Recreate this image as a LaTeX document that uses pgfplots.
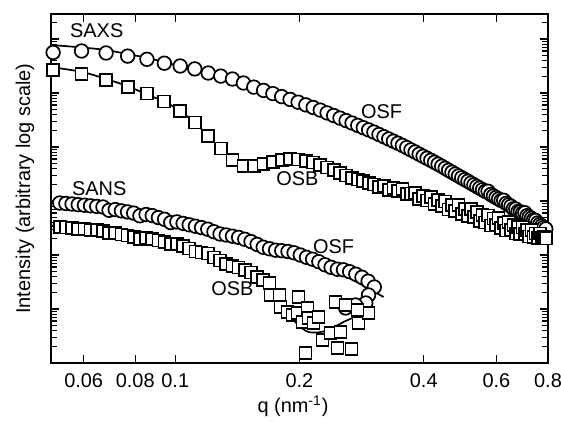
\documentclass[border=0pt]{standalone}
\usepackage{pgfplots}
\pgfplotsset{compat=1.18}
\usepackage{fontspec}
\setmainfont{Liberation Sans}

% y values are log10(intensity), arbitrary units
\pgfplotstableread{
q      osf    osb
0.0506 5.750  5.426
0.0593 5.778  5.354
0.0680 5.741  5.241
0.0767 5.683  5.107
0.0854 5.624  4.989
0.0941 5.552  4.841
0.1028 5.500  4.667
0.1115 5.446  4.452
0.1202 5.370  4.206
0.1289 5.313  3.972
0.1376 5.259  3.756
0.1463 5.185  3.648
0.1550 5.109  3.646
0.1637 5.048  3.689
0.1724 4.989  3.724
0.1811 4.933  3.757
0.1898 4.881  3.778
0.1985 4.830  3.769
0.2072 4.780  3.739
0.2159 4.731  3.711
0.2246 4.683  3.670
0.2333 4.631  3.619
0.2420 4.583  3.574
0.2507 4.535  3.522
0.2594 4.489  3.472
0.2681 4.444  3.431
0.2768 4.400  3.396
0.2855 4.357  3.367
0.2942 4.317  3.337
0.3029 4.276  3.306
0.3116 4.231  3.265
0.3203 4.189  3.281
0.3290 4.148  3.207
0.3377 4.107  3.244
0.3464 4.069  3.189
0.3551 4.030  3.228
0.3638 3.989  3.130
0.3725 3.946  3.141
0.3812 3.907  3.154
0.3899 3.867  3.037
0.3986 3.828  3.087
0.4073 3.791  3.009
0.4160 3.754  3.078
0.4247 3.717  2.944
0.4334 3.681  3.017
0.4421 3.643  2.902
0.4508 3.606  2.991
0.4595 3.569  2.841
0.4682 3.533  2.931
0.4769 3.498  2.819
0.4856 3.463  2.928
0.4943 3.430  2.761
0.5030 3.396  2.852
0.5117 3.365  2.722
0.5204 3.331  2.852
0.5291 3.300  2.702
0.5378 3.269  2.793
0.5465 3.239  2.624
0.5552 3.209  2.735
0.5639 3.178  2.604
0.5726 3.180  2.733
0.5813 3.120  2.548
0.5900 3.093  2.678
0.5987 3.065  2.550
0.6074 3.037  2.680
0.6161 3.009  2.500
0.6248 3.013  2.596
0.6335 2.956  2.454
0.6422 2.930  2.606
0.6509 2.902  2.463
0.6596 2.856  2.559
0.6683 2.850  2.398
0.6770 2.806  2.515
0.6857 2.800  2.391
0.6944 2.776  2.509
0.7031 2.782  2.385
0.7118 2.728  2.467
0.7205 2.704  2.343
0.7292 2.678  2.461
0.7379 2.650  2.339
0.7466 2.640  2.400
0.7553 2.593  2.315
0.7640 2.565  2.396
0.7727 2.537  2.311
0.7814 2.509  2.337
0.7901 2.483  2.307
}\saxs

\pgfplotstableread{
q       L
0.0525  2.963
0.05434 2.954
0.05624 2.944
0.05821 2.933
0.06025 2.922
0.06235 2.911
0.06454 2.900
0.06680 2.889
0.06913 2.828
0.07155 2.841
0.07406 2.817
0.07665 2.798
0.07933 2.776
0.08211 2.726
0.08498 2.750
0.08796 2.730
0.09104 2.693
0.09422 2.661
0.09752 2.600
0.1009  2.613
0.1045  2.585
0.1081  2.559
0.1119  2.533
0.1158  2.507
0.1199  2.478
0.1241  2.431
0.1284  2.389
0.1329  2.370
0.1376  2.348
0.1424  2.326
0.1474  2.291
0.1526  2.248
0.1579  2.196
0.1634  2.144
0.1692  2.115
0.1751  2.089
0.1812  2.080
0.1876  2.065
0.1941  2.041
0.2009  2.000
0.2080  1.957
0.2152  1.922
0.2228  1.876
0.2306  1.819
0.2386  1.772
0.2470  1.737
0.2556  1.726
0.2646  1.691
0.2738  1.644
0.2834  1.587
0.2933  1.515
0.3036  1.407
0.2940  1.259
0.2895  1.111
0.2735  1.074
0.2587  1.019
}\sansosf

\pgfplotstableread{
q       L
0.0525  2.517
0.05434 2.507
0.05624 2.496
0.05821 2.487
0.06025 2.478
0.06235 2.467
0.06454 2.457
0.06680 2.448
0.06913 2.407
0.07155 2.402
0.07406 2.381
0.07665 2.361
0.07933 2.339
0.08211 2.296
0.08498 2.315
0.08796 2.296
0.09104 2.270
0.09422 2.241
0.09752 2.204
0.1009  2.198
0.1045  2.163
0.1081  2.120
0.1119  2.065
0.1158  2.048
0.1199  2.030
0.1241  1.956
0.1284  1.898
0.1329  1.835
0.1376  1.802
0.1424  1.769
0.1474  1.726
0.1526  1.676
0.1579  1.596
0.1634  1.537
0.1692  1.481
0.1701  1.259
0.1790  1.259
0.1798  1.037
0.1870  0.944
0.1923  0.889
0.1977  0.926
0.1989  1.222
0.2034  0.759
0.2091  1.019
0.2103  0.833
0.2163  0.741
0.2224  0.852
0.2274  0.426
0.2378  0.556
0.2445  1.130
0.2514  0.574
0.2473  0.278
0.2673  0.259
0.2587  1.074
0.2780  0.741
0.2940  0.926
0.2068  0.185
0.2765  0.981
}\sansosb

\begin{document}
\begin{tikzpicture}
\begin{axis}[
  scale only axis,
  width=248.5bp, height=174.5bp,
  xmode=log,
  xmin=0.05, xmax=0.8,
  ymin=0, ymax=6.463,
  xtick={0.06,0.08,0.1,0.2,0.4,0.6,0.8},
  xticklabels={0.06,0.08,0.1,0.2,0.4,0.6,0.8},
  minor xtick={},
  ytick={0,1,2,3,4,5,6},
  yticklabels={},
  minor ytick={0.301,0.477,0.602,0.699,0.778,0.845,0.903,0.954,
    1.301,1.477,1.602,1.699,1.778,1.845,1.903,1.954,
    2.301,2.477,2.602,2.699,2.778,2.845,2.903,2.954,
    3.301,3.477,3.602,3.699,3.778,3.845,3.903,3.954,
    4.301,4.477,4.602,4.699,4.778,4.845,4.903,4.954,
    5.301,5.477,5.602,5.699,5.778,5.845,5.903,5.954,
    6.301},
  tick align=inside,
  tick pos=both,
  major tick length=4bp,
  minor tick length=3bp,
  every tick/.style={black, line width=0.6bp},
  axis line style={line width=0.8bp},
  font=\fontsize{10}{12}\selectfont,
  xticklabel style={yshift=-2bp},
  xlabel={q (nm\textsuperscript{-1})},
  ylabel={Intensity (arbitrary log scale)},
  xlabel style={at={(axis description cs:0.487,-0.123)}, anchor=center},
  ylabel style={at={(axis description cs:-0.0523,0.5)}, anchor=center},
  clip=false,
  mk/.style={only marks, line width=0.85bp, mark options={draw=black, fill=white}},
  fit/.style={black, line width=0.85bp, no marks},
]
% SAXS data
\addplot[mk, mark=*, mark size=3.4bp] table[x=q, y=osf] {\saxs};
\addplot[mk, mark=square*, mark size=3bp] table[x=q, y=osb] {\saxs};
% SANS data
\addplot[mk, mark=*, mark size=3.4bp] table[x=q, y=L] {\sansosf};
\addplot[mk, mark=square*, mark size=3bp] table[x=q, y=L] {\sansosb};

% fits
\addplot[fit, smooth] coordinates {
 (0.05,5.889) (0.0595,5.843) (0.0680,5.796) (0.0765,5.722) (0.0860,5.648)
 (0.0935,5.574) (0.1028,5.500) (0.1118,5.435) (0.1216,5.361) (0.1375,5.259)
 (0.1546,5.111) (0.1749,4.972) (0.1902,4.880) (0.2211,4.704) (0.2557,4.509)
 (0.3023,4.278) (0.3575,4.019) (0.4324,3.685) (0.520,3.333) (0.6254,2.981)
 (0.727,2.685) (0.80,2.444)};
\addplot[fit, smooth] coordinates {
 (0.05,5.481) (0.0595,5.389) (0.0680,5.259) (0.0765,5.130) (0.0860,4.963)
 (0.0946,4.833) (0.1028,4.667) (0.1118,4.444) (0.1202,4.204) (0.1293,3.963)
 (0.1383,3.759) (0.1438,3.648) (0.1495,3.593) (0.1564,3.602) (0.1654,3.667)
 (0.1798,3.759) (0.1977,3.806) (0.2126,3.778) (0.2287,3.704) (0.2514,3.574)
 (0.2765,3.444) (0.3057,3.333) (0.3575,3.204) (0.4324,3.019) (0.520,2.815)
 (0.615,2.630) (0.80,2.352)};
\addplot[fit, smooth] coordinates {
 (0.05,2.981) (0.0657,2.926) (0.0869,2.759) (0.1149,2.537) (0.1520,2.296)
 (0.1654,2.204) (0.2068,1.963) (0.2587,1.611) (0.3197,1.222)};
\addplot[fit, smooth] coordinates {
 (0.05,2.537) (0.0657,2.481) (0.0869,2.315) (0.1149,2.093) (0.1360,1.870)
 (0.1520,1.685) (0.1654,1.444) (0.1798,1.130) (0.1955,0.759) (0.2103,0.574)
 (0.2312,0.593) (0.2587,0.778) (0.2940,0.963)};

\node[anchor=west] at (axis cs:0.0535,6.148) {SAXS};
\node[anchor=west] at (axis cs:0.0541,3.222) {SANS};
\node at (axis cs:0.3162,4.648) {OSF};
\node at (axis cs:0.1977,3.407) {OSB};
\node at (axis cs:0.2419,2.148) {OSF};
\node at (axis cs:0.1375,1.370) {OSB};
\end{axis}
\pgfresetboundingbox
\path ([shift={(-25.5bp,-29.5bp)}]current axis.south west)
  rectangle ([shift={(6.5bp,7bp)}]current axis.north east);
\end{tikzpicture}
\end{document}
